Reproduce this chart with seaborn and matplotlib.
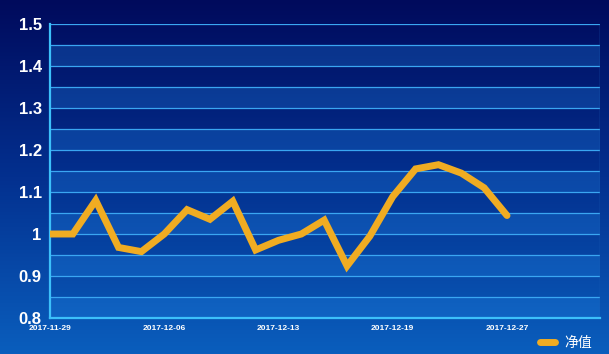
import numpy as np
import pandas as pd
import matplotlib
matplotlib.use("Agg")
import matplotlib.pyplot as plt
import matplotlib.patheffects as pe
from matplotlib.colors import LinearSegmentedColormap
import seaborn as sns

# --- dados ---
dates = ["2017-11-29", "2017-11-30", "2017-12-01", "2017-12-04", "2017-12-05",
         "2017-12-06", "2017-12-07", "2017-12-08", "2017-12-11", "2017-12-12",
         "2017-12-13", "2017-12-14", "2017-12-15", "2017-12-16", "2017-12-18",
         "2017-12-19", "2017-12-20", "2017-12-21", "2017-12-22", "2017-12-26",
         "2017-12-27"]
nav = [1.0, 1.0, 1.08, 0.968, 0.958, 1.0, 1.058, 1.035, 1.078, 0.962,
       0.985, 1.0, 1.033, 0.924, 0.995, 1.089, 1.155, 1.165, 1.145, 1.11,
       1.044]
tick_idx = [0, 5, 10, 15, 20]
series_name = "净值"

df = pd.DataFrame({"idx": range(len(nav)), "nav": nav})

sns.set_style("dark")
plt.rcParams["font.family"] = ["Liberation Sans", "Noto Sans CJK SC", "DejaVu Sans"]

fig = plt.figure(figsize=(6.09, 3.54), dpi=100)

# fundo em degrade
bg = fig.add_axes([0, 0, 1, 1], zorder=0)
cmap = LinearSegmentedColormap.from_list("bg", ["#000a5c", "#03308f", "#0a5ebd"])
grad = np.linspace(0, 1, 256).reshape(-1, 1)
bg.imshow(grad, aspect="auto", cmap=cmap, extent=[0, 1, 0, 1], origin="upper")
bg.set_axis_off()

ax = fig.add_axes([50 / 609, 36 / 354, 550 / 609, 294 / 354], zorder=1)
ax.set_facecolor("none")

# faixas alternadas
for k, y0 in enumerate(np.arange(0.8, 1.5, 0.05)):
    if k % 2 == 0:
        ax.axhspan(y0, y0 + 0.05, color="#2288e8", alpha=0.28, lw=0, zorder=0)
for y in np.arange(0.85, 1.51, 0.05):
    ax.axhline(y, color="#3aa6f2", lw=0.9, zorder=1)
ax.axvline(24.05, color="#1b5fb8", lw=1.0, zorder=1)

sns.lineplot(data=df, x="idx", y="nav", ax=ax, color="#f0ac22", lw=3.4,
             solid_joinstyle="miter", solid_capstyle="round", zorder=3,
             label=series_name, legend=False,
             path_effects=[pe.SimpleLineShadow(offset=(1.5, -1.5), alpha=0.5),
                           pe.Normal()])

ax.set_xlim(0, 550 / 22.85)
ax.set_ylim(0.8, 1.5)
yt = np.round(np.arange(0.8, 1.51, 0.1), 1)
ax.set_yticks(yt)
ax.set_yticklabels([f"{v:g}" for v in yt], fontsize=12, fontweight="bold", color="white")
ax.set_xticks(tick_idx)
ax.set_xticklabels([dates[i] for i in tick_idx], fontsize=6,
                   fontweight="bold", color="white")
ax.set_xlabel("")
ax.set_ylabel("")
ax.grid(False)
ax.tick_params(axis="y", colors="#3cc0fa", length=4, width=1.2, pad=2,
               labelcolor="white")
ax.tick_params(axis="x", colors="#3cc0fa", length=4, width=1.2, pad=1,
               labelcolor="white")
for s in ["top", "right"]:
    ax.spines[s].set_visible(False)
for s in ["left", "bottom"]:
    ax.spines[s].set_color("#3cc0fa")
    ax.spines[s].set_linewidth(1.6)

handles, labels = ax.get_legend_handles_labels()
for h in handles:
    h.set_linewidth(5)
    h.set_solid_capstyle("round")
    h.set_path_effects([])
fig.legend(handles, labels, loc="center left", bbox_to_anchor=(527 / 609, 11 / 354),
           frameon=False, handlelength=1.1, handletextpad=0.7,
           prop={"family": ["Noto Sans CJK SC", "DejaVu Sans"], "size": 10},
           labelcolor="white")

fig.savefig("out.png", dpi=100)
